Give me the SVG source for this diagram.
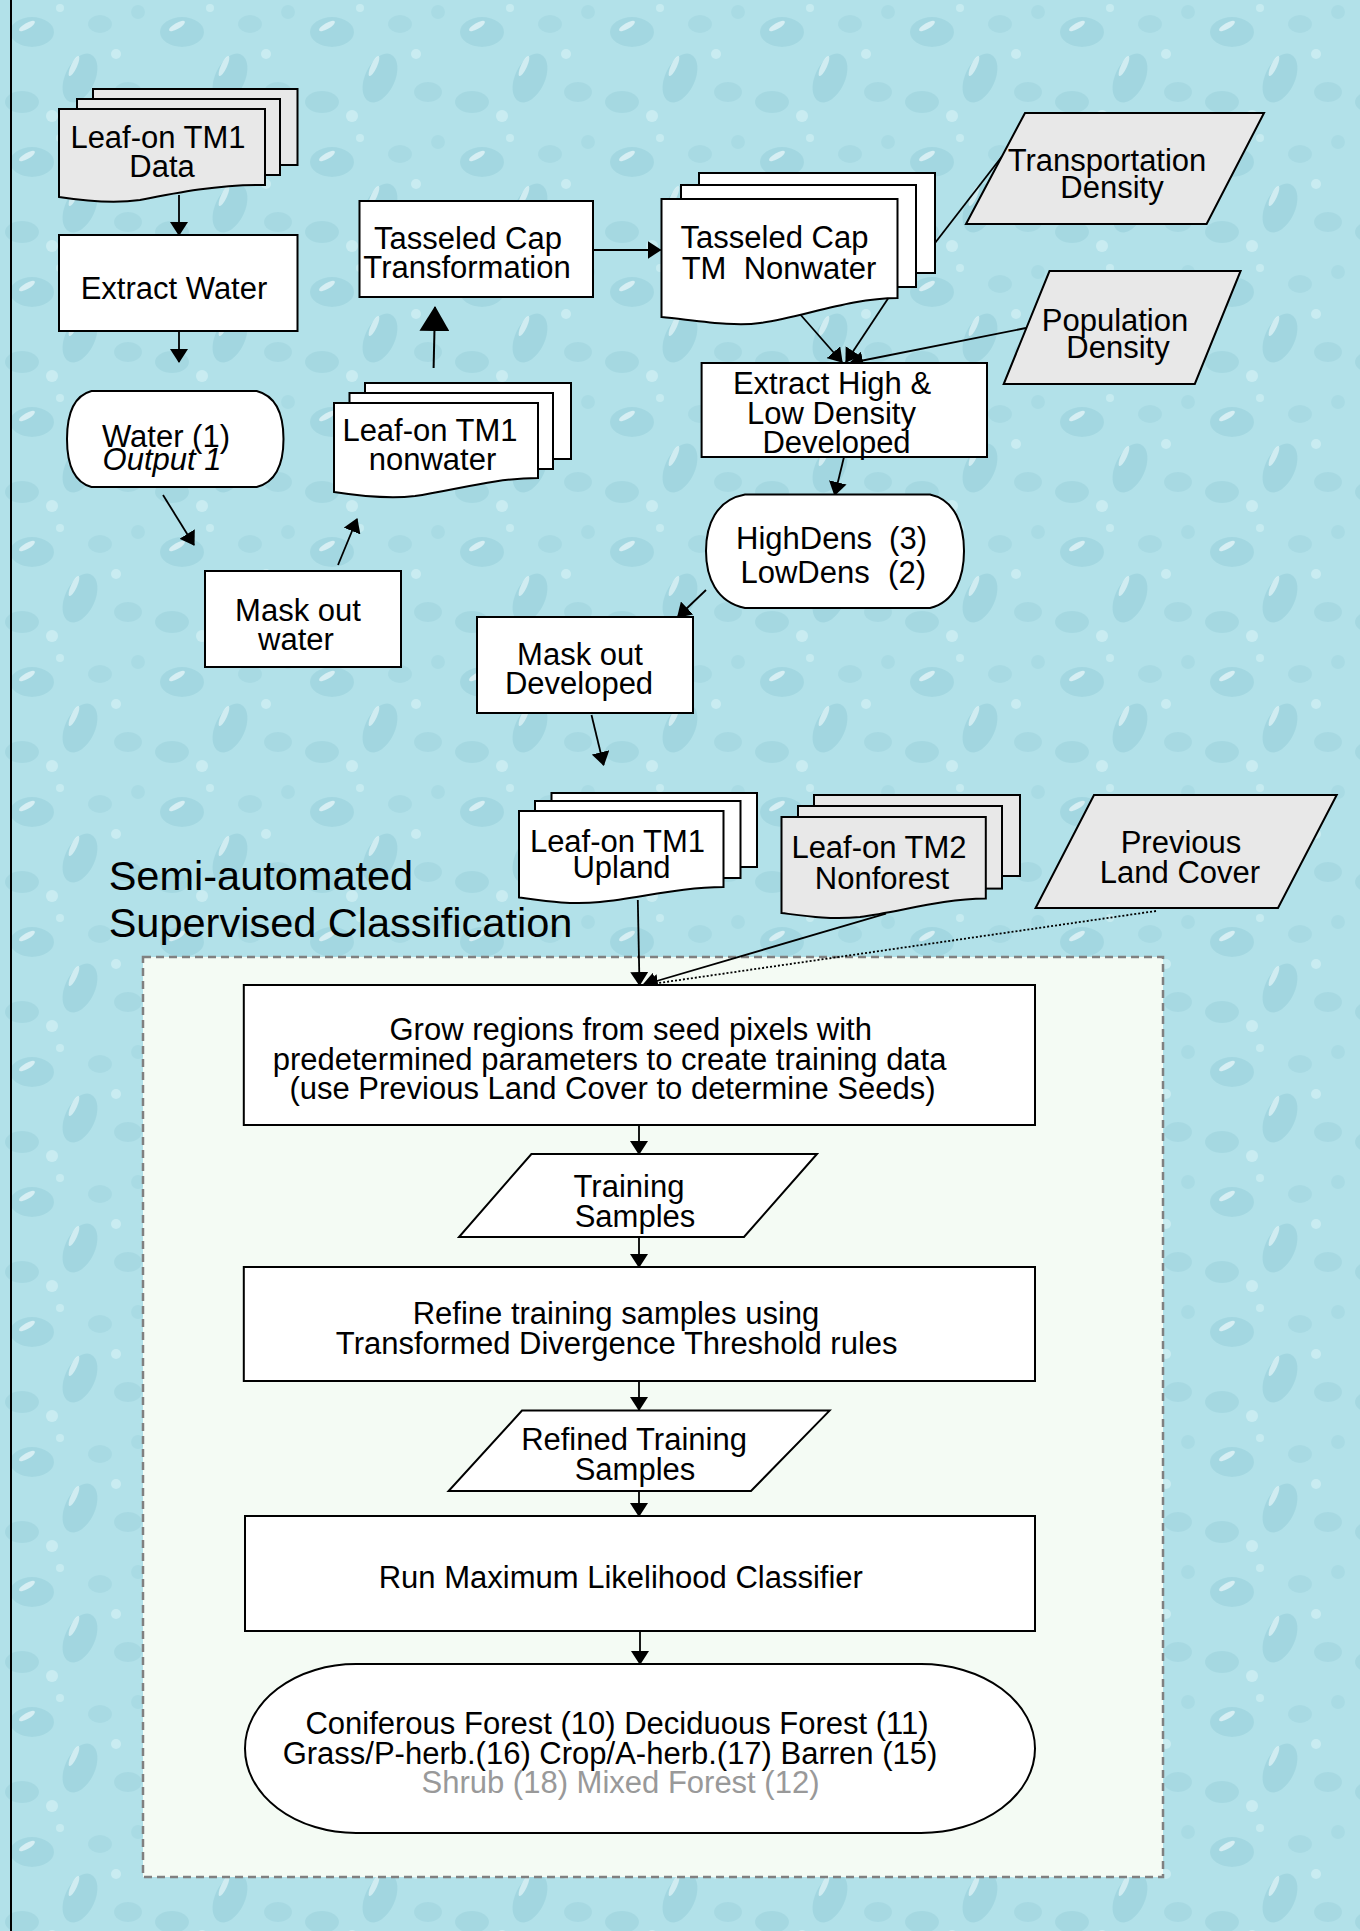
<svg xmlns="http://www.w3.org/2000/svg" width="1360" height="1931" viewBox="0 0 1360 1931">
<style>
  .t { font-family: "Liberation Sans", Arial, sans-serif; font-size: 31px; fill: #000; text-anchor: middle; }
  .ts { text-anchor: start; }
  .te { text-anchor: end; }
  .title { font-family: "Liberation Sans", Arial, sans-serif; font-size: 41.5px; fill: #000; }
  .w { fill: #fff; stroke: #000; stroke-width: 2; }
  .g { fill: #e8e8e8; stroke: #000; stroke-width: 2; }
  .c { fill: none; stroke: #000; stroke-width: 1.8; }
  .ca { fill: none; stroke: #000; stroke-width: 1.8; marker-end: url(#arr); }
  .cb { fill: none; stroke: #000; stroke-width: 2; marker-end: url(#arrBig); }
  .cd { fill: none; stroke: #000; stroke-width: 1.8; stroke-dasharray: 2 2; marker-end: url(#arr); }
</style>
<defs>
  <marker id="arr" viewBox="0 0 14 18" refX="13" refY="9" markerWidth="14" markerHeight="18" markerUnits="userSpaceOnUse" orient="auto">
    <path d="M0,0 L14,9 L0,18 Z" fill="#000"/>
  </marker>
  <marker id="arrBig" viewBox="0 0 25 30" refX="24" refY="15" markerWidth="25" markerHeight="30" markerUnits="userSpaceOnUse" orient="auto">
    <path d="M0,0 L25,15 L0,30 Z" fill="#000"/>
  </marker>
  <pattern id="drops" width="150" height="130" patternUnits="userSpaceOnUse">
    <rect width="150" height="130" fill="#b2e1e9"/>
    <ellipse cx="32" cy="32" rx="22" ry="15" fill="#97cfda" opacity="0.55"/>
    <ellipse cx="27" cy="26" rx="9" ry="3" fill="#ecf9fb" opacity="0.7" transform="rotate(-30 27 26)"/>
    <ellipse cx="100" cy="24" rx="12" ry="9" fill="#9dd3de" opacity="0.5"/>
    <ellipse cx="80" cy="78" rx="15" ry="26" fill="#92ccd8" opacity="0.5" transform="rotate(25 80 78)"/>
    <ellipse cx="74" cy="66" rx="3" ry="11" fill="#eefafc" opacity="0.6" transform="rotate(25 74 66)"/>
    <ellipse cx="128" cy="92" rx="14" ry="10" fill="#9bd1dc" opacity="0.5"/>
    <ellipse cx="22" cy="102" rx="17" ry="11" fill="#98cfda" opacity="0.5"/>
    <circle cx="52" cy="116" r="6" fill="#d3f1f5" opacity="0.7"/>
    <circle cx="116" cy="54" r="5" fill="#d3f1f5" opacity="0.7"/>
    <circle cx="138" cy="12" r="7" fill="#a0d5df" opacity="0.5"/>
    <circle cx="60" cy="8" r="4" fill="#d3f1f5" opacity="0.6"/>
  </pattern>
</defs>

<rect x="0" y="0" width="1360" height="1931" fill="url(#drops)"/>
<line x1="11" y1="0" x2="11" y2="1931" stroke="#000" stroke-width="2"/>

<g id="container">
  <rect x="143" y="957" width="1020" height="920" fill="#f4fbf4" stroke="#808080" stroke-width="2.5" stroke-dasharray="8 5"/>
</g>

<g id="title">
  <text class="title" x="108.7" y="890">Semi-automated</text>
  <text class="title" x="108.7" y="937">Supervised Classification</text>
</g>

<g id="connectors">
  <line class="ca" x1="179" y1="195" x2="179" y2="235"/>
  <line class="ca" x1="179" y1="331" x2="179" y2="362"/>
  <line class="ca" x1="163" y1="495" x2="194" y2="545"/>
  <line class="ca" x1="338" y1="565" x2="357" y2="519"/>
  <line class="cb" x1="433.6" y1="368" x2="435" y2="307"/>
  <line class="ca" x1="593" y1="250" x2="660.5" y2="250"/>
  <line class="c" x1="935" y1="243" x2="1001.5" y2="157"/>
  <line class="ca" x1="799" y1="313" x2="842" y2="362"/>
  <line class="ca" x1="893.7" y1="290" x2="846" y2="362"/>
  <line class="ca" x1="1026" y1="328" x2="850" y2="363"/>
  <line class="ca" x1="844" y1="457" x2="834.7" y2="495"/>
  <line class="ca" x1="706" y1="590" x2="677.7" y2="617"/>
  <line class="ca" x1="591.5" y1="715" x2="603.6" y2="765"/>
  <line class="ca" x1="637.8" y1="900" x2="639.5" y2="985"/>
  <line class="ca" x1="886" y1="913.6" x2="643" y2="985"/>
  <line class="cd" x1="1156" y1="911" x2="645" y2="985"/>
  <line class="ca" x1="639" y1="1125" x2="639" y2="1154"/>
  <line class="ca" x1="639" y1="1237" x2="639" y2="1267"/>
  <line class="ca" x1="639" y1="1381" x2="639" y2="1410"/>
  <line class="ca" x1="639" y1="1491" x2="639" y2="1516"/>
  <line class="ca" x1="640" y1="1631" x2="640" y2="1664"/>
</g>

<g id="leafon-tm1-data">
  <rect class="g" x="93" y="89" width="204.5" height="76"/>
  <rect class="g" x="77" y="99" width="203" height="76"/>
  <path class="g" d="M59,109 H265 V185 C220,184 175,193 140,200 C112,204 85,201 59,197 Z"/>
  <text class="t" x="158" y="148">Leaf-on TM1</text>
  <text class="t" x="162" y="177">Data</text>
</g>

<g id="extract-water">
  <rect class="w" x="59" y="235" width="238.5" height="96"/>
  <text class="t" x="174" y="299">Extract Water</text>
</g>

<g id="tasseled-cap">
  <rect class="w" x="359.5" y="201" width="233.5" height="96"/>
  <text class="t" x="468" y="249">Tasseled Cap</text>
  <text class="t" x="467" y="278">Transformation</text>
</g>

<g id="tc-nonwater">
  <rect class="w" x="699" y="173" width="236" height="100"/>
  <rect class="w" x="681" y="185" width="235" height="102"/>
  <path class="w" d="M661.5,199 H897.5 V298 C850,298 800,318 760,323 C735,327 700,321 661.5,317 Z"/>
  <text class="t" x="774.5" y="248">Tasseled Cap</text>
  <text class="t" x="779" y="279" style="white-space:pre">TM  Nonwater</text>
</g>

<g id="transportation-density">
  <polygon class="g" points="1025,113 1264,113 1206.6,224 966,224"/>
  <text class="t" x="1107" y="171">Transportation</text>
  <text class="t" x="1112" y="198">Density</text>
</g>

<g id="population-density">
  <polygon class="g" points="1049.5,271 1240.6,271 1194.8,384 1003.7,384"/>
  <text class="t" x="1115" y="331">Population</text>
  <text class="t" x="1118" y="358">Density</text>
</g>

<g id="extract-high-low">
  <rect class="w" x="701.6" y="363" width="285.4" height="94"/>
  <text class="t" x="832" y="394">Extract High &amp;</text>
  <text class="t" x="831.5" y="424">Low Density</text>
  <text class="t" x="836.5" y="453">Developed</text>
</g>

<g id="water-output">
  <path class="w" d="M91.5,391 H256.7 C276,396 283.5,415 283.5,439 C283.5,463 276,482 256.7,487 H91.5 C73,482 67,463 67,439 C67,415 73,396 91.5,391 Z"/>
  <text class="t" x="166" y="447">Water (1)</text>
  <text class="t" x="162" y="470" font-style="italic">Output 1</text>
</g>

<g id="leafon-tm1-nonwater">
  <rect class="w" x="365" y="383" width="206" height="76"/>
  <rect class="w" x="349.5" y="393" width="203.5" height="76"/>
  <path class="w" d="M334,403 H538 V478 C495,478 455,490 415,496 C390,499 360,496 334,492 Z"/>
  <text class="t" x="430" y="441">Leaf-on TM1</text>
  <text class="t" x="432.5" y="470">nonwater</text>
</g>

<g id="mask-water">
  <rect class="w" x="205" y="571" width="196" height="96"/>
  <text class="t" x="298" y="621">Mask out</text>
  <text class="t" x="296" y="650">water</text>
</g>

<g id="highdens-lowdens">
  <path class="w" d="M745,494.6 H930 C955,500 964,525 964,551 C964,577 955,602 930,608 H745 C716,602 706,577 706,551 C706,525 716,500 745,494.6 Z"/>
  <text class="t ts" x="736" y="549">HighDens</text>
  <text class="t te" x="927" y="549">(3)</text>
  <text class="t ts" x="740.5" y="582.5">LowDens</text>
  <text class="t te" x="926" y="582.5">(2)</text>
</g>

<g id="mask-developed">
  <rect class="w" x="477" y="617" width="216" height="96"/>
  <text class="t" x="580" y="665">Mask out</text>
  <text class="t" x="579" y="694">Developed</text>
</g>

<g id="leafon-tm1-upland">
  <rect class="w" x="551.5" y="793" width="205.5" height="74"/>
  <rect class="w" x="535" y="801" width="205.5" height="77"/>
  <path class="w" d="M519,811 H723.5 V887 C680,887 640,898 600,902 C570,905 545,901 519,897.5 Z"/>
  <text class="t" x="617.5" y="852">Leaf-on TM1</text>
  <text class="t" x="621.5" y="878">Upland</text>
</g>

<g id="leafon-tm2-nonforest">
  <rect class="g" x="814" y="795" width="206" height="81"/>
  <rect class="g" x="798" y="806" width="204" height="82.6"/>
  <path class="g" d="M781.5,817 H985.8 V898.6 C940,899 900,912 860,917 C830,920 805,916 781.5,913 Z"/>
  <text class="t" x="879" y="858">Leaf-on TM2</text>
  <text class="t" x="882" y="888.6">Nonforest</text>
</g>

<g id="previous-land-cover">
  <polygon class="g" points="1094,795 1336.7,795 1278,908 1035.6,908"/>
  <text class="t" x="1181" y="853">Previous</text>
  <text class="t" x="1180" y="883">Land Cover</text>
</g>

<g id="grow-regions">
  <rect class="w" x="243.8" y="985" width="791.2" height="140"/>
  <text class="t" x="630.7" y="1040">Grow regions from seed pixels with</text>
  <text class="t" x="609.6" y="1070">predetermined parameters to create training data</text>
  <text class="t" x="612.5" y="1099">(use Previous Land Cover to determine Seeds)</text>
</g>

<g id="training-samples">
  <polygon class="w" points="531.4,1154 817,1154 744,1237 459,1237"/>
  <text class="t" x="629" y="1197">Training</text>
  <text class="t" x="635" y="1227">Samples</text>
</g>

<g id="refine">
  <rect class="w" x="243.8" y="1267" width="791.2" height="114"/>
  <text class="t" x="616" y="1324">Refine training samples using</text>
  <text class="t" x="616.7" y="1354">Transformed Divergence Threshold rules</text>
</g>

<g id="refined-training-samples">
  <polygon class="w" points="522,1410.6 829.6,1410.6 751,1491 448.6,1491"/>
  <text class="t" x="634" y="1450">Refined Training</text>
  <text class="t" x="635" y="1480">Samples</text>
</g>

<g id="run-mlc">
  <rect class="w" x="245" y="1516" width="790" height="115"/>
  <text class="t" x="620.8" y="1588">Run Maximum Likelihood Classifier</text>
</g>

<g id="classes-output">
  <path class="w" d="M356,1664 H921 A114,84.5 0 0 1 921,1833 H356 A111,84.5 0 0 1 356,1664 Z"/>
  <text class="t" x="617" y="1734">Coniferous Forest (10) Deciduous Forest (11)</text>
  <text class="t" x="610" y="1764">Grass/P-herb.(16) Crop/A-herb.(17) Barren (15)</text>
  <text class="t" x="620.5" y="1793" style="fill:#999">Shrub (18) Mixed Forest (12)</text>
</g>
</svg>
